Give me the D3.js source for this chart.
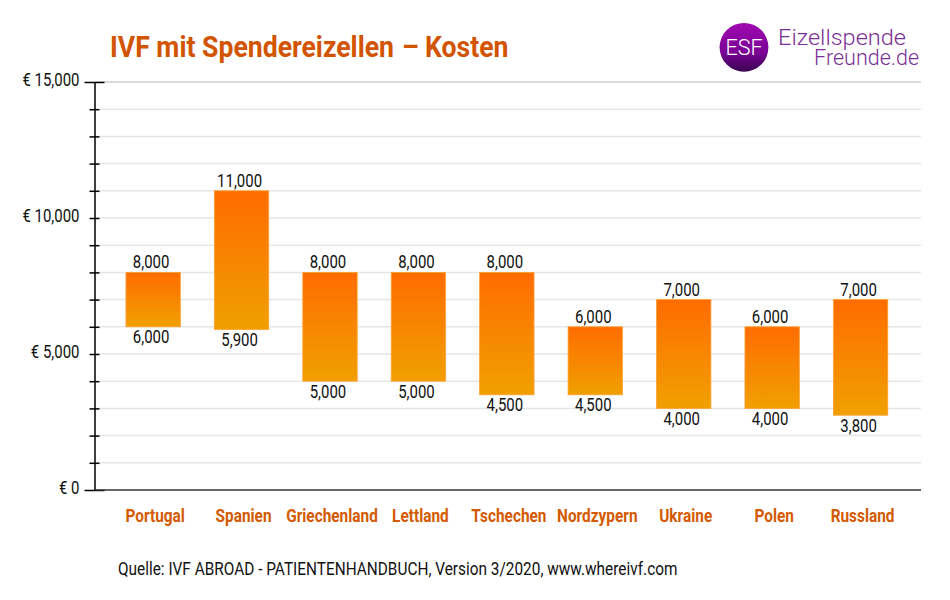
<!DOCTYPE html>
<html>
<head>
<meta charset="utf-8">
<script src="https://cdnjs.cloudflare.com/ajax/libs/d3/7.8.5/d3.min.js"></script>
<style>
html, body { margin: 0; padding: 0; background: #fff; }
text { font-family: Roboto, sans-serif; }
</style>
</head>
<body>
<div id="chart"></div>
<script>
const countries = ["Portugal", "Spanien", "Griechenland", "Lettland", "Tschechen", "Nordzypern", "Ukraine", "Polen", "Russland"]
const high = [8000, 11000, 8000, 8000, 8000, 6000, 7000, 6000, 7000]
// the bars end about 1000 below what their printed label says, from Griechenland on
const lowDrawn = [6000, 5900, 4000, 4000, 3500, 3500, 3000, 3000, 2750]
const lowLabel = [6000, 5900, 5000, 5000, 4500, 4500, 4000, 4000, 3800]
const yTicks = [0, 1000, 2000, 3000, 4000, 5000, 6000, 7000, 8000, 9000, 10000, 11000, 12000, 13000, 14000, 15000]
const yLabels = [0, 5000, 10000, 15000]
const longTicks = [0, 15000]

// roboto condensed is not installed, so squeeze plain roboto
const squeeze = 0.855

const svg = d3.select("#chart").append("svg")
    .attr("width", 950).attr("height", 600).style("display", "block")

const defs = svg.append("defs")
const barGrad = defs.append("linearGradient").attr("id", "barGrad")
    .attr("x1", 0).attr("y1", 0).attr("x2", 0).attr("y2", 1)
barGrad.append("stop").attr("offset", "0%").attr("stop-color", "#ff6c00")
barGrad.append("stop").attr("offset", "100%").attr("stop-color", "#f0a000")
const logoGrad = defs.append("linearGradient").attr("id", "logoGrad")
    .attr("x1", 0).attr("y1", 0).attr("x2", 0).attr("y2", 1)
logoGrad.append("stop").attr("offset", "0%").attr("stop-color", "#a008b0")
logoGrad.append("stop").attr("offset", "60%").attr("stop-color", "#7a0496")
logoGrad.append("stop").attr("offset", "100%").attr("stop-color", "#3a0250")

const x = d3.scaleBand().domain(countries).range([108.7, 905]).paddingInner(0.385).paddingOuter(0.195)
const y = d3.scaleLinear().domain([0, 15000]).range([490, 82])
const mid = d => x(d) + x.bandwidth() / 2

const condensed = (sel, px, py) => sel.attr("transform", (d, i) =>
    `translate(${px(d, i)},${py(d, i)}) scale(${squeeze},1)`)

// gridlines
svg.append("g").selectAll("line").data(yTicks.slice(1)).join("line")
    .attr("x1", 95).attr("x2", 921)
    .attr("y1", d => y(d)).attr("y2", d => y(d))
    .attr("stroke", d => d === 15000 ? "#cfcfcf" : "#e6e6e6")
    .attr("stroke-width", 1.5)

// bars
svg.append("g").selectAll("rect").data(countries).join("rect")
    .attr("x", d => x(d))
    .attr("width", x.bandwidth())
    .attr("y", (d, i) => y(high[i]))
    .attr("height", (d, i) => y(lowDrawn[i]) - y(high[i]))
    .attr("fill", "url(#barGrad)")
    .attr("stroke", "#ffa030").attr("stroke-width", 0.8)

// y axis
const y_axis = d3.axisLeft(y).tickValues(yTicks).tickFormat("").tickSize(5).tickSizeOuter(0)
const axis = svg.append("g").attr("transform", "translate(94.5,0)").call(y_axis)
axis.select(".domain").attr("stroke", "#000").attr("stroke-width", 1.5)
axis.selectAll(".tick line")
    .attr("x1", d => longTicks.includes(d) ? -10 : -5)
    .attr("x2", d => longTicks.includes(d) ? 10 : 5)
    .attr("stroke", "#000").attr("stroke-width", 1.5)

svg.append("line").attr("x1", 95).attr("x2", 921)
    .attr("y1", y(0)).attr("y2", y(0))
    .attr("stroke", "#333").attr("stroke-width", 1.5)

svg.append("g").selectAll("text").data(yLabels).join("text")
    .call(condensed, () => 79.5, d => y(d) + 3.5)
    .attr("text-anchor", "end").attr("font-size", 17.5).attr("fill", "#111")
    .text(d => "€ " + d3.format(",")(d))

// value labels
svg.append("g").selectAll("text").data(high).join("text")
    .call(condensed, (d, i) => mid(countries[i]) - 2, d => y(d) - 4)
    .attr("text-anchor", "middle").attr("font-size", 17.5).attr("fill", "#111")
    .text(d => d3.format(",")(d))
svg.append("g").selectAll("text").data(lowLabel).join("text")
    .call(condensed, (d, i) => mid(countries[i]) - 2, (d, i) => y(lowDrawn[i]) + 16.5)
    .attr("text-anchor", "middle").attr("font-size", 17.5).attr("fill", "#111")
    .text(d => d3.format(",")(d))

// categories
svg.append("g").selectAll("text").data(countries).join("text")
    .call(condensed, d => mid(d) + 2, () => 522)
    .attr("text-anchor", "middle").attr("font-size", 18).attr("font-weight", 700).attr("fill", "#d35a00")
    .text(d => d)

// title
const title = svg.append("text").attr("transform", "translate(110,57) scale(0.887,1)")
    .attr("font-size", 30).attr("font-weight", 700).attr("fill", "#d35400")
title.append("tspan").text("IVF mit Spendereizellen")
title.append("tspan").attr("dx", 9).text("–")
title.append("tspan").attr("dx", 7).text("Kosten")

// source
svg.append("text").attr("transform", `translate(118,575) scale(${squeeze},1)`)
    .attr("font-size", 18).attr("fill", "#111")
    .text("Quelle: IVF ABROAD - PATIENTENHANDBUCH, Version 3/2020, www.whereivf.com")

// logo
const logo = svg.append("g")
logo.append("circle").attr("cx", 744).attr("cy", 47.3).attr("r", 24.4).attr("fill", "url(#logoGrad)")
logo.append("text").attr("x", 744).attr("y", 55).attr("text-anchor", "middle")
    .attr("font-size", 21.5).attr("font-weight", 300).attr("fill", "#fff").text("ESF")
logo.append("text").attr("transform", "translate(778,45) scale(1.07,1)").attr("font-size", 22).attr("font-weight", 300)
    .attr("fill", "#7b2f96").text("Eizellspende")
logo.append("text").attr("x", 919).attr("y", 65).attr("text-anchor", "end").attr("font-size", 21.5).attr("font-weight", 300)
    .attr("fill", "#7b2f96").text("Freunde.de")
</script>
</body>
</html>
